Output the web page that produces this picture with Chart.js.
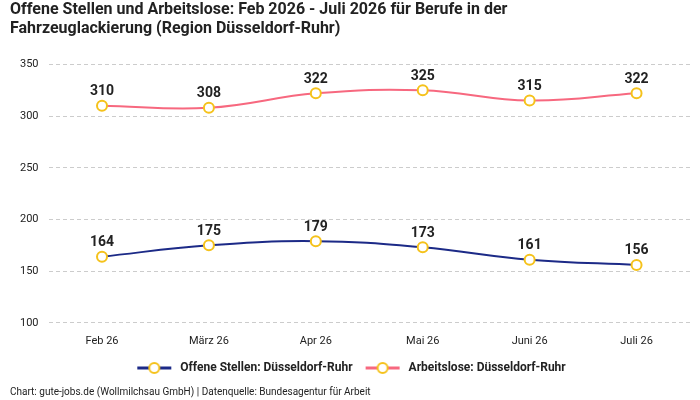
<!DOCTYPE html>
<html><head><meta charset="utf-8">
<script src="https://cdn.jsdelivr.net/npm/chart.js@4"></script>
<style>html,body{margin:0;background:#fff}#wrap{width:700px;height:400px}</style>
</head><body><div id="wrap"><canvas id="c"></canvas></div>
<script>
const months = ["Feb 26", "März 26", "Apr 26", "Mai 26", "Juni 26", "Juli 26"];
const offeneStellen = [164, 175, 179, 173, 161, 156];
const arbeitslose = [310, 308, 322, 325, 315, 322];
const yTicks = [100, 150, 200, 250, 300, 350];

Chart.defaults.font.family = "Roboto, 'Noto Sans', sans-serif";
Chart.defaults.color = "#222";

function legendIcon(color) {
  const cv = document.createElement("canvas");
  cv.width = 36; cv.height = 14;
  const g = cv.getContext("2d");
  g.strokeStyle = color; g.lineWidth = 3;
  g.beginPath(); g.moveTo(1, 7); g.lineTo(35, 7); g.stroke();
  g.fillStyle = "#fff"; g.strokeStyle = "#f5c21b"; g.lineWidth = 2;
  g.beginPath(); g.arc(18, 7, 5, 0, Math.PI * 2); g.fill(); g.stroke();
  return cv;
}

// value labels above the points
const valueLabels = {
  id: "valueLabels",
  afterDatasetsDraw(chart) {
    const ctx = chart.ctx;
    ctx.save();
    ctx.font = "bold 14px Roboto, sans-serif";
    ctx.fillStyle = "#222";
    ctx.textAlign = "center";
    ctx.textBaseline = "bottom";
    chart.data.datasets.forEach((ds, i) => {
      chart.getDatasetMeta(i).data.forEach((pt, j) => {
        ctx.fillText(ds.data[j], pt.x, pt.y - 7);
      });
    });
    ctx.restore();
  }
};

new Chart(document.getElementById("c"), {
  type: "line",
  data: {
    labels: months,
    datasets: [
      { label: "Offene Stellen: Düsseldorf-Ruhr", data: offeneStellen, borderColor: "#1c2a87", backgroundColor: "#fff",
        pointBorderColor: "#f5c21b", pointBackgroundColor: "#fff", pointRadius: 5, pointBorderWidth: 2, borderWidth: 2, tension: 0.4 },
      { label: "Arbeitslose: Düsseldorf-Ruhr", data: arbeitslose, borderColor: "#f7687f", backgroundColor: "#fff",
        pointBorderColor: "#f5c21b", pointBackgroundColor: "#fff", pointRadius: 5, pointBorderWidth: 2, borderWidth: 2, tension: 0.4 }
    ]
  },
  options: {
    responsive: true, maintainAspectRatio: false, animation: false,
    layout: { padding: { left: 10, right: 10, top: 0, bottom: 2 } },
    scales: {
      x: { offset: true, grid: { display: false }, border: { display: false }, ticks: { font: { size: 11 }, padding: 4 } },
      y: { min: 100, max: 350, afterBuildTicks: a => { a.ticks = yTicks.map(v => ({ value: v })); },
        grid: { color: "#ccc", drawTicks: false }, border: { display: true, color: "rgba(0,0,0,0)", dash: [4, 3] },
        ticks: { font: { size: 11 }, padding: 10 } }
    },
    plugins: {
      title: { display: true, align: "start", color: "#222",
        text: ["Offene Stellen und Arbeitslose: Feb 2026 - Juli 2026 für Berufe in der", "Fahrzeuglackierung (Region Düsseldorf-Ruhr)"],
        font: { size: 16, weight: "bold" }, padding: { top: 0, bottom: 26 } },
      subtitle: { display: true, position: "bottom", align: "start", color: "#222",
        text: "Chart: gute-jobs.de (Wollmilchsau GmbH) | Datenquelle: Bundesagentur für Arbeit",
        font: { size: 10 }, padding: { top: 2, bottom: 0 } },
      legend: { position: "bottom", labels: { usePointStyle: true, pointStyleWidth: 40, boxHeight: 12, padding: 10,
        font: { size: 12, weight: "bold" }, color: "#222",
        generateLabels: chart => chart.data.datasets.map((ds, i) => ({
          text: ds.label, pointStyle: legendIcon(ds.borderColor), datasetIndex: i, fontColor: "#222", hidden: false
        })) } },
      tooltip: { enabled: false }
    }
  },
  plugins: [valueLabels]
});
</script></body></html>
